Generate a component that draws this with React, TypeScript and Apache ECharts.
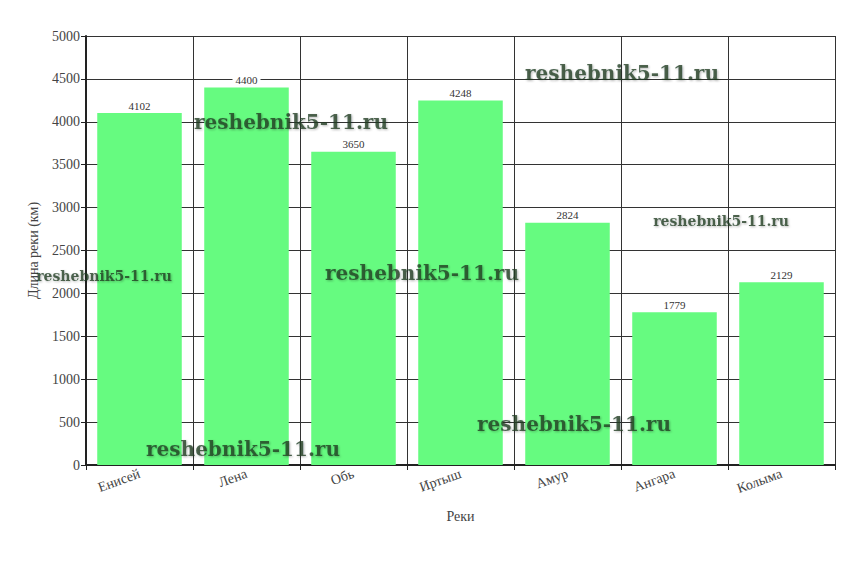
import React, { useEffect, useRef } from "react";
import * as echarts from "echarts";

const categories = ["Енисей", "Лена", "Обь", "Иртыш", "Амур", "Ангара", "Колыма"];
const lengths = [4102, 4400, 3650, 4248, 2824, 1779, 2129];
const yTicks = { min: 0, max: 5000, interval: 500 };
const watermarkText = "reshebnik5-11.ru";
const watermarks = [
  { x: 291, y: 122, size: 20 },
  { x: 622, y: 73, size: 20 },
  { x: 721, y: 221, size: 14 },
  { x: 104, y: 276, size: 14 },
  { x: 422, y: 273, size: 20 },
  { x: 243, y: 449, size: 20 },
  { x: 574, y: 424, size: 20 },
];

export default function App() {
  const ref = useRef<HTMLDivElement>(null);
  useEffect(() => {
    const chart = echarts.init(ref.current!, null, { renderer: "svg" });
    const serif = "Liberation Serif";
    chart.setOption({
      animation: false,
      backgroundColor: "#ffffff",
      grid: { left: 86, right: 13, top: 36, bottom: 109 },
      xAxis: {
        type: "category",
        data: categories,
        name: "Реки",
        nameLocation: "middle",
        nameGap: 44,
        nameTextStyle: { fontFamily: serif, fontSize: 14, color: "#444" },
        axisLine: { show: true, lineStyle: { color: "#222", width: 2 } },
        axisTick: { show: true, length: 5, lineStyle: { color: "#222" } },
        splitLine: { show: true, lineStyle: { color: "#333", width: 1 } },
        axisLabel: {
          rotate: 20,
          fontFamily: serif,
          fontSize: 14,
          color: "#444",
          margin: 8,
        },
      },
      yAxis: {
        type: "value",
        min: yTicks.min,
        max: yTicks.max,
        interval: yTicks.interval,
        name: "Длина реки (км)",
        nameLocation: "middle",
        nameGap: 46,
        nameTextStyle: { fontFamily: serif, fontSize: 14, color: "#444" },
        axisLine: { show: true, lineStyle: { color: "#222", width: 2 } },
        axisTick: { show: true, length: 5, lineStyle: { color: "#222" } },
        splitLine: { show: true, lineStyle: { color: "#333", width: 1 } },
        axisLabel: {
          fontFamily: serif,
          fontSize: 14,
          color: "#444",
          margin: 6,
          formatter: (v: number) => String(v),
        },
      },
      series: [
        {
          type: "bar",
          data: lengths,
          barCategoryGap: "21%",
          itemStyle: { color: "#66fb80" },
          label: {
            show: true,
            position: "top",
            distance: 2,
            fontFamily: serif,
            fontSize: 11,
            color: "#333",
            backgroundColor: "#ffffff",
            padding: [0, 3],
          },
        },
      ],
      graphic: watermarks.map((w) => ({
        type: "text",
        x: w.x,
        y: w.y,
        z: 100,
        style: {
          text: watermarkText,
          fontFamily: "DejaVu Serif",
          fontWeight: "bold",
          fontSize: w.size,
          align: "center",
          verticalAlign: "middle",
          fill: "rgba(30,60,35,0.78)",
          textShadowColor: "rgba(0,0,0,0.35)",
          textShadowBlur: 2,
          textShadowOffsetX: 1,
          textShadowOffsetY: 1,
        },
      })),
    });
    return () => chart.dispose();
  }, []);
  return (
    <div
      ref={ref}
      style={{ position: "absolute", left: 0, top: 0, width: 848, height: 574 }}
    />
  );
}
